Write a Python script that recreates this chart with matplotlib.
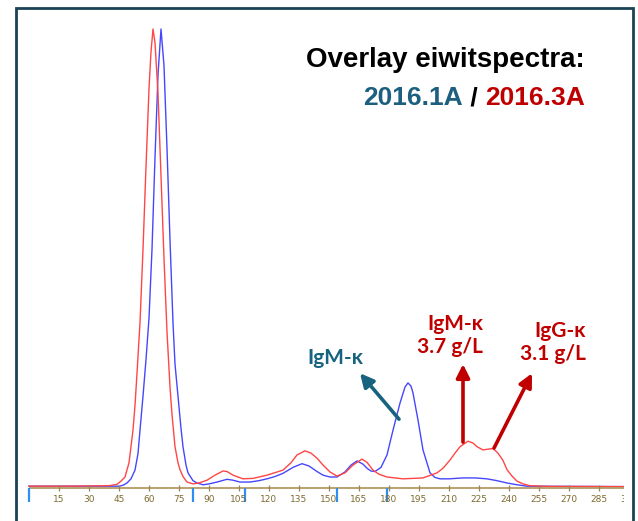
import matplotlib
matplotlib.use("Agg")
import matplotlib.pyplot as plt
from matplotlib.patches import Rectangle

# spectrum 2016.3A (red)
red_x = [0, 20, 40, 44, 46, 48, 50, 52, 53, 54, 55.5, 57, 58.5, 60, 61, 62, 63, 64.5, 66, 67.5,
         69, 70.5, 71.5, 73, 74.5, 75.5, 77, 79, 82, 85, 89, 93, 97, 99, 102, 107, 112, 119, 127, 131,
         134, 138, 141, 144, 147, 150.5, 154, 158, 162, 166.5, 169, 172, 175, 179, 187, 197, 204, 207,
         210.5, 213, 215.5, 219.5, 222, 224, 227, 230, 232, 234.5, 237, 239, 241.5, 244, 247, 250.5,
         260, 300]
red_y = [0.4, 0.4, 0.5, 0.8, 1.5, 2.4, 5.5, 12.6, 18, 25, 36, 52, 70, 87, 95, 100, 97, 86, 68, 50,
         34, 22, 16, 9, 5.5, 4, 2.5, 1.3, 0.9, 1.1, 1.7, 2.8, 3.7, 3.6, 2.8, 2.0, 2.1, 2.8, 3.9, 5.5,
         7.2, 8.1, 7.6, 6.5, 5.0, 3.5, 2.6, 3.3, 5.0, 6.3, 5.6, 3.9, 3.0, 2.4, 2.0, 2.2, 3.3, 4.3,
         6.1, 7.6, 9.0, 10.2, 9.8, 9.0, 8.3, 8.5, 8.6, 7.6, 6.0, 4.0, 2.6, 1.5, 0.9, 0.5,
         0.35, 0.3]

# spectrum 2016.1A (blue)
blue_x = [0, 20, 45, 47, 49, 51, 53, 54.5, 55.5, 57, 58.5, 60, 61.5, 63, 64.5, 66, 67.5, 69, 70.5, 72,
          73, 74.5, 76, 77, 78.5, 79.5, 82, 84, 87, 90, 94, 99, 102, 105.5, 110.5, 115, 119, 123, 127, 132,
          136.5, 140, 144, 147, 150.5, 154, 158, 161, 164, 167, 169, 171, 173, 176, 179, 182, 185.5, 188,
          189.5, 191, 192, 194.5, 197, 200.5, 203, 205.5, 210, 217, 223, 229, 234, 239, 244, 249, 300]
blue_y = [0.4, 0.4, 0.4, 0.6, 1.1, 2.0, 3.9, 7.5, 12.6, 20, 28, 37, 52, 72, 90, 100, 92, 74, 54, 36,
          27, 20, 13, 9, 5, 3.3, 1.6, 1.1, 0.7, 0.9, 1.3, 1.9, 1.7, 1.3, 1.3, 1.6, 2.0, 2.5, 3.2, 4.5,
          5.3, 4.8, 3.6, 2.8, 2.4, 2.4, 3.5, 5.0, 5.9, 5.2, 4.3, 3.7, 3.6, 4.5, 7.2, 12.6, 18.5, 22,
          22.9, 22.2, 20.7, 14.8, 8.3, 3.3, 2.3, 2.0, 2.0, 2.2, 2.2, 2.0, 1.6, 1.1, 0.7, 0.4, 0.3]

tick_vals = list(range(15, 301, 15))
tick_labels = [str(v) for v in tick_vals]
fraction_marks = [0, 82, 108, 154, 179]

W, H = 638, 521
fig = plt.figure(figsize=(W / 100, H / 100), dpi=100)

# axes in pixel terms: x 20..624, y 20..510 (from top)
ax = fig.add_axes([20 / W, (H - 510) / H, 604 / W, 490 / H])
ax.set_xlim(-4.5, 297.5)
ax.set_ylim(-4.79, 101.96)
ax.axis("off")

ax.plot(blue_x, blue_y, color="#4646ff", lw=1.0)
ax.plot(red_x, red_y, color="#ff4646", lw=1.0)

# baseline axis with ticks
axis_col = "#b49a64"
ax.hlines(0, 0, 300, color=axis_col, lw=1.3)
ax.vlines(tick_vals, -0.7, 0.7, color="#9c8450", lw=0.9)
for v, lab in zip(tick_vals, tick_labels):
    ax.text(v, -2.5, lab, ha="center", va="center", fontsize=6.5, color="#7d6a2e",
            family=["Liberation Sans Narrow", "DejaVu Sans"], clip_on=True)
ax.vlines(fraction_marks, -3.1, 0, color="#2f8ff0", lw=1.6)

# annotations
teal = "#17637f"
red = "#c00000"
lab_font = ["Lato", "DejaVu Sans"]
arr = dict(arrowstyle="-|>", lw=2.6, mutation_scale=20, shrinkA=0, shrinkB=0)
ax.annotate("", xy=(165.5, 25), xytext=(185, 15), arrowprops=dict(arr, color=teal))
ax.annotate("", xy=(217, 27), xytext=(217, 10), arrowprops=dict(arr, color=red))
ax.annotate("", xy=(251.5, 25), xytext=(232.5, 8.7), arrowprops=dict(arr, color=red))
ax.text(139, 28.3, "IgM-κ", ha="left", va="center", fontsize=15, fontweight="bold",
        color=teal, family=lab_font)
ax.text(227, 33.2, "IgM-κ\n3.7 g/L", ha="right", va="center", multialignment="right",
        fontsize=15, fontweight="bold", color=red, family=lab_font, linespacing=1.2)
ax.text(278.5, 31.7, "IgG-κ\n3.1 g/L", ha="right", va="center", multialignment="right",
        fontsize=15, fontweight="bold", color=red, family=lab_font, linespacing=1.2)

# title
title_font = ["Liberation Sans", "DejaVu Sans"]
fig.text(585 / W, (H - 67) / H, "Overlay eiwitspectra:", ha="right", va="baseline",
         fontsize=20, fontweight="bold", color="black", family=title_font)
fig.canvas.draw()
r = fig.canvas.get_renderer()
x_right = 585 / W
for part, col in [("2016.3A", red), (" / ", "black"), ("2016.1A", "#1d5f7e")]:
    t = fig.text(x_right, (H - 105) / H, part, ha="right", va="baseline",
                 fontsize=19, fontweight="bold", color=col, family=title_font)
    bb = t.get_window_extent(renderer=r)
    x_right = bb.x0 / W

# frame
fig.add_artist(Rectangle((16 / W, -0.02), 617 / W, (H - 8) / H + 0.02, transform=fig.transFigure,
                         fill=False, edgecolor="#1b4356", lw=2.0))

fig.savefig("out.png", dpi=100)
